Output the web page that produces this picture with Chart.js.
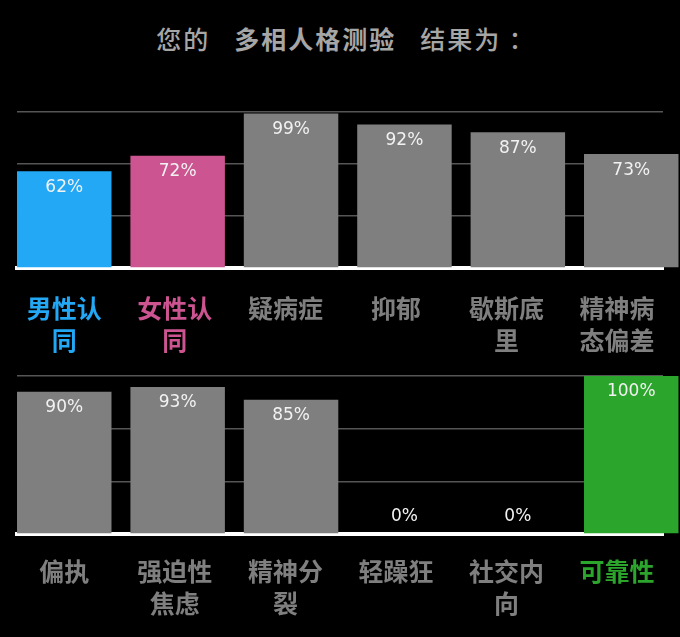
<!DOCTYPE html>
<html>
<head>
<meta charset="utf-8">
<script src="https://cdn.jsdelivr.net/npm/chart.js@4"></script>
<style>
  html, body { margin: 0; padding: 0; background: #000; width: 680px; height: 637px; overflow: hidden; }
  #title { position: absolute; left: 8px; top: 20px; width: 676px; text-align: center;
           font-family: "Noto Sans CJK SC", sans-serif; font-size: 25px; font-weight: 500; color: #a6a6a6; letter-spacing: 2px; }
  #title .b { font-weight: bold; margin: 0 24px; }
  .box { position: absolute; left: 0; width: 680px; }
  #topBox { top: 100px; height: 260px; }
  #botBox { top: 360px; height: 277px; }
</style>
</head>
<body>
<div id="title"><span>您的</span><span class="b">多相人格测验</span><span>结果为 ：</span></div>
<div class="box" id="topBox"><canvas id="c1"></canvas></div>
<div class="box" id="botBox"><canvas id="c2"></canvas></div>
<script>
const topCategories = ['男性认同', '女性认同', '疑病症', '抑郁', '歇斯底里', '精神病态偏差'];
const topValues = [62, 72, 99, 92, 87, 73];
const topColors = ['#22a8f5', '#cc5490', '#7f7f7f', '#7f7f7f', '#7f7f7f', '#7f7f7f'];

const botCategories = ['偏执', '强迫性焦虑', '精神分裂', '轻躁狂', '社交内向', '可靠性'];
const botValues = [90, 93, 85, 0, 0, 100];
const botColors = ['#7f7f7f', '#7f7f7f', '#7f7f7f', '#7f7f7f', '#7f7f7f', '#2ca52c'];

const gridTicks = [0, 33.33, 66.67, 100];
const FONT = '"Noto Sans CJK SC", "Noto Sans", sans-serif';
const LABEL_SPREAD = 0.975; // category labels sit on a slightly tighter pitch than the bars

const valueLabels = {
  id: 'valueLabels',
  afterDatasetsDraw(chart) {
    const ctx = chart.ctx;
    const meta = chart.getDatasetMeta(0);
    const data = chart.data.datasets[0].data;
    ctx.save();
    ctx.font = '17px "DejaVu Sans", sans-serif';
    ctx.fillStyle = '#f2f2f2';
    ctx.textAlign = 'center';
    ctx.textBaseline = 'middle';
    meta.data.forEach((el, i) => {
      const v = data[i].y;
      const y = v > 0 ? el.y + 16 : el.base - 17;
      ctx.fillText(v + '%', el.x, y);
    });
    ctx.restore();
  }
};

function makeChart(id, categories, values, colors, padTop, xHeight, tickPad) {
  const wrapped = categories.map(c => c.match(/.{1,3}/g));
  return new Chart(document.getElementById(id), {
    type: 'bar',
    data: {
      datasets: [{
        data: values.map((v, i) => ({ x: i, y: v })),
        backgroundColor: colors,
        borderWidth: 0,
        categoryPercentage: 1,
        barPercentage: 0.8545,
        clip: false
      }]
    },
    options: {
      responsive: true,
      maintainAspectRatio: false,
      animation: false,
      layout: { padding: { left: 17, right: 17, top: padTop, bottom: 0 } },
      plugins: { legend: { display: false }, tooltip: { enabled: false }, title: { display: false } },
      scales: {
        x: {
          type: 'linear',
          offset: false,
          min: -0.4167,
          max: 5.28,
          afterBuildTicks: s => { s.ticks = categories.map((_, i) => ({ value: i * LABEL_SPREAD })); },
          afterFit: s => { s.height = xHeight; s.paddingLeft = 0; s.paddingRight = 0; },
          grid: { display: false, drawTicks: false, offset: false },
          border: { display: true, color: '#ffffff', width: 4 },
          ticks: {
            autoSkip: false,
            maxRotation: 0,
            padding: tickPad,
            callback: (v, i) => wrapped[i],
            color: c => colors[c.index],
            font: { family: FONT, size: 25, weight: 'bold', lineHeight: 1.28 }
          }
        },
        y: {
          min: 0,
          max: 100,
          afterBuildTicks: s => { s.ticks = gridTicks.map(v => ({ value: v })); },
          afterFit: s => { s.width = 0; s.paddingTop = 0; s.paddingBottom = 0; },
          grid: { color: '#555555', lineWidth: 1.5, drawTicks: false },
          border: { display: false },
          ticks: { display: false }
        }
      }
    },
    plugins: [valueLabels]
  });
}

makeChart('c1', topCategories, topValues, topColors, 12, 92, 24);
makeChart('c2', botCategories, botValues, botColors, 16, 103, 21);
</script>
</body>
</html>
